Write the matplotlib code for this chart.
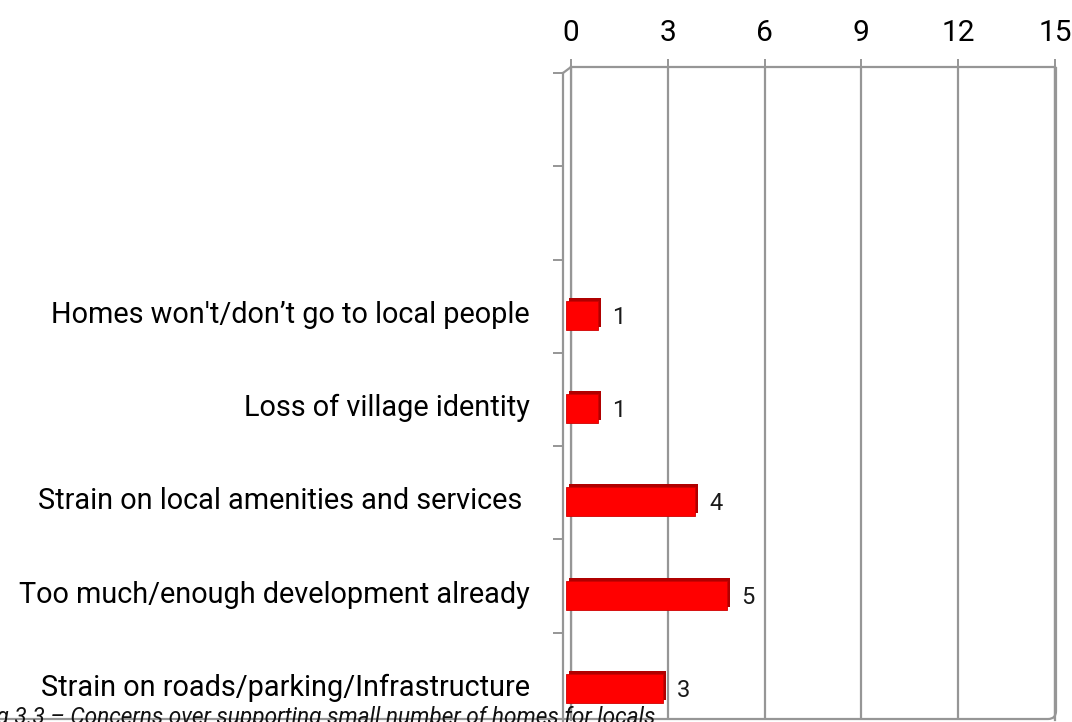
import matplotlib
matplotlib.use("Agg")
import matplotlib.pyplot as plt
import numpy as np
from matplotlib.transforms import offset_copy, ScaledTranslation, Bbox
from matplotlib.patches import ConnectionPatch, FancyBboxPatch

# concerns and number of responses
concerns = ["Homes won't/don\u2019t go to local people",
            "Loss of village identity",
            "Strain on local amenities and services ",
            "Too much/enough development already",
            "Strain on roads/parking/Infrastructure"]
responses = [1, 1, 4, 5, 3]
x_ticks = [0, 3, 6, 9, 12, 15]
caption = "Fig 3.3 \u2013 Concerns over supporting small number of homes for locals"

n_slots = 7  # two empty category slots above the answers
grey = "#969696"
red = "#ff0000"
dark_red = "#b00000"

plt.rcParams['font.family'] = ['Roboto', 'DejaVu Sans']

W, H = 1072, 722
fig = plt.figure(figsize=(W / 100, H / 100), dpi=100)

# back wall of the 3d plot: gridlines and value axis on top
back = fig.add_axes([571 / W, (H - 720) / H, 484 / W, 653 / H])
back.set_xlim(0, 15)
back.set_ylim(-0.5, n_slots - 0.5)
back.set_xticks(x_ticks)
back.xaxis.tick_top()
back.tick_params(axis='x', length=6, width=1.4, color=grey, pad=8.5, labelsize=21.5)
back.set_yticks([])
back.grid(axis='x', color=grey, linewidth=1.6)
back.set_axisbelow(True)
for side in ['top', 'left', 'right']:
    back.spines[side].set_color(grey)
    back.spines[side].set_linewidth(1.6)
back.spines['bottom'].set_visible(False)
back.patch.set_alpha(0)

# front edge of the floor with category ticks and labels
front = fig.add_axes([563 / W, (H - 726) / H, 484 / W, 653 / H])
front.set_xlim(0, 15)
front.set_ylim(-0.5, n_slots - 0.5)
front.patch.set_alpha(0)
for side in ['top', 'right', 'bottom']:
    front.spines[side].set_visible(False)
front.spines['left'].set_color(grey)
front.spines['left'].set_linewidth(1.6)
front.set_xticks([])
ypos = np.arange(len(concerns))[::-1]
front.set_yticks(ypos)
front.set_yticklabels(concerns)
front.tick_params(axis='y', which='major', length=0, pad=24, labelsize=20.8)
shift_down = ScaledTranslation(0, -4 / 72, fig.dpi_scale_trans)
for lbl in front.get_yticklabels():
    lbl.set_transform(lbl.get_transform() + shift_down)
front.set_yticks(np.arange(n_slots + 1) - 0.5, minor=True)
front.tick_params(axis='y', which='minor', length=7, width=1.4, color=grey)

# corner joining the front edge to the back wall
fig.add_artist(ConnectionPatch(xyA=(0, 1), coordsA=front.transAxes,
                               xyB=(0, 1), coordsB=back.transAxes,
                               color=grey, linewidth=1.6))

# bars: dark top/side first, red face shifted in front of it
side_tr = offset_copy(back.transData, fig=fig, x=-2, y=-12, units='dots')
face_tr = offset_copy(back.transData, fig=fig, x=-5, y=-15, units='dots')
label_tr = offset_copy(back.transData, fig=fig, x=9, y=-17, units='dots')
back.barh(ypos, responses, height=0.31, color=dark_red, transform=side_tr,
          clip_on=False, zorder=3)
back.barh(ypos, responses, height=0.31, color=red, edgecolor="#d00000",
          linewidth=0.6, transform=face_tr, clip_on=False, zorder=4)
for v, y in zip(responses, ypos):
    back.text(v, y, str(v), transform=label_tr, ha='left', va='center',
              fontsize=17, color='#1a1a1a', zorder=5)

# rounded chart border, only its lower right corner shows
border = FancyBboxPatch((-40, 3), 1056 + 40, H + 40, transform=None,
                        boxstyle="round,pad=0,rounding_size=8",
                        facecolor='none', edgecolor=grey, linewidth=1.6)
fig.add_artist(border)
border.set_clip_box(Bbox.from_extents(0, 0, W, H - 67))

fig.text(655 / W, -2 / H, caption, ha='right', va='baseline',
         fontsize=16.3, style='italic', color='#111111')

fig.savefig("out.png", dpi=100)
